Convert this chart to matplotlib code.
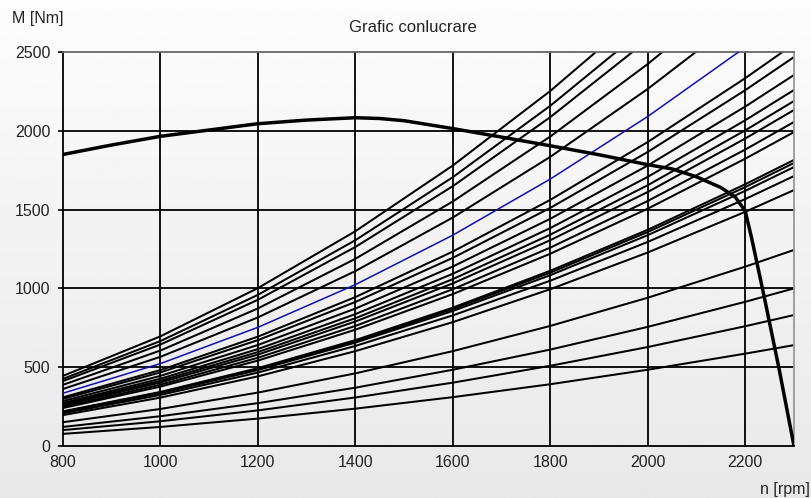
"""
Grafic conlucrare: engine torque curve vs. resistance torque curves.
"""

import numpy as np
import matplotlib
matplotlib.use("Agg")
import matplotlib.pyplot as plt

plt.rcParams["font.family"] = ["Liberation Sans", "DejaVu Sans"]

# -----------------------------------------------------------------------
# Data
# -----------------------------------------------------------------------
N_GRID = [800, 1000, 1200, 1400, 1600, 1800, 2000, 2200, 2300]

# resistance torque [Nm] at N_GRID, steep curves leave the top of the plot
upper_curves = [
    [445, 696, 1002, 1363, 1780, 2253, 2782],
    [426, 666, 959, 1306, 1706, 2159, 2665],
    [412, 644, 928, 1263, 1649, 2087, 2577],
    [388, 606, 873, 1188, 1552, 1964, 2424, 2933],
    [362, 566, 816, 1110, 1450, 1835, 2266, 2741],
]
blue_curve = [335, 523, 753, 1024, 1338, 1694, 2091, 2530]
middle_curves = [
    [309, 482, 694, 945, 1234, 1562, 1929, 2334, 2551],
    [299, 467, 672, 914, 1194, 1511, 1866, 2258, 2468],
    [285, 445, 641, 872, 1139, 1442, 1780, 2154, 2354],
    [273, 427, 615, 837, 1093, 1383, 1708, 2067, 2259],
    [265, 414, 596, 811, 1059, 1341, 1655, 2003, 2189],
    [258, 403, 580, 790, 1032, 1306, 1612, 1951, 2132],
    [249, 389, 560, 762, 995, 1259, 1555, 1881, 2056],
    [241, 377, 542, 738, 964, 1220, 1506, 1823, 1992],
    [220, 343, 494, 672, 878, 1112, 1372, 1661, 1815],
    [217, 340, 489, 665, 869, 1100, 1358, 1643, 1796],
    [214, 335, 482, 656, 857, 1084, 1338, 1619, 1770],
    [207, 324, 466, 635, 829, 1049, 1295, 1567, 1713],
    [196, 307, 442, 602, 786, 995, 1228, 1486, 1624],
]
lower_curves = [
    [151, 235, 339, 461, 602, 762, 941, 1138, 1244],
    [121, 189, 272, 370, 484, 612, 756, 915, 1000],
    [101, 157, 226, 308, 402, 509, 628, 760, 831],
    [77, 121, 174, 237, 310, 392, 484, 586, 640],
]

# engine torque curve
engine_n = [800, 900, 1000, 1100, 1200, 1300, 1400, 1450, 1500, 1600, 1700, 1800,
            1900, 2000, 2050, 2100, 2150, 2180, 2200, 2213, 2240, 2270, 2300]
engine_m = [1850, 1910, 1965, 2005, 2045, 2068, 2083, 2078, 2064, 2014, 1960, 1905,
            1848, 1785, 1758, 1708, 1640, 1578, 1490, 1320, 930, 480, 0]

X_TICKS = [800, 1000, 1200, 1400, 1600, 1800, 2000, 2200]
Y_TICKS = [0, 500, 1000, 1500, 2000, 2500]

# -----------------------------------------------------------------------
# Figure
# -----------------------------------------------------------------------
fig = plt.figure(figsize=(8.12, 4.98), dpi=100)

# light vertical gradient behind everything
bg = fig.add_axes([0, 0, 1, 1], zorder=-10)
grad = np.linspace(0.99, 0.91, 256).reshape(-1, 1)
bg.imshow(grad, aspect="auto", cmap="gray", vmin=0, vmax=1,
          extent=[0, 1, 0, 1], origin="upper")
bg.axis("off")

ax = fig.add_axes([63 / 812, 1 - 446 / 498, 731 / 812, 394 / 498])
ax.patch.set_alpha(0)

for xv in X_TICKS[1:]:
    ax.axvline(xv, color="black", lw=1.3, zorder=1)
for yv in Y_TICKS[1:-1]:
    ax.axhline(yv, color="black", lw=1.3, zorder=1)

for vals in upper_curves + middle_curves + lower_curves:
    ax.plot(N_GRID[:len(vals)], vals, color="black", lw=1.45, zorder=2)
ax.plot(N_GRID[:len(blue_curve)], blue_curve, color="#1010b0", lw=1.1, zorder=3)
ax.plot(engine_n, engine_m, color="black", lw=2.5, zorder=4,
        solid_joinstyle="round")

ax.set_xlim(800, 2300)
ax.set_ylim(0, 2500)
ax.set_xticks(X_TICKS)
ax.set_yticks(Y_TICKS)
ax.tick_params(axis="y", length=3.6, width=1.2, pad=5.5, labelsize=11.5,
               labelcolor="#222222")
ax.tick_params(axis="x", length=0, pad=6.5, labelsize=11.5, labelcolor="#222222")

ax.spines["left"].set_color("black")
ax.spines["bottom"].set_color("black")
ax.spines["top"].set_color("#666666")
ax.spines["right"].set_color("#999999")
for s in ax.spines.values():
    s.set_linewidth(1.3)

fig.text(412.5 / 812, 1 - 27 / 498, "Grafic conlucrare", ha="center", va="center",
         fontsize=12, color="#222222")
fig.text(12 / 812, 1 - 18 / 498, "M [Nm]", ha="left", va="center",
         fontsize=11.5, color="#222222")
fig.text(810 / 812, 1 - 489 / 498, "n [rpm]", ha="right", va="center",
         fontsize=11.5, color="#222222")

fig.savefig("out.png", dpi=100)
plt.close(fig)
